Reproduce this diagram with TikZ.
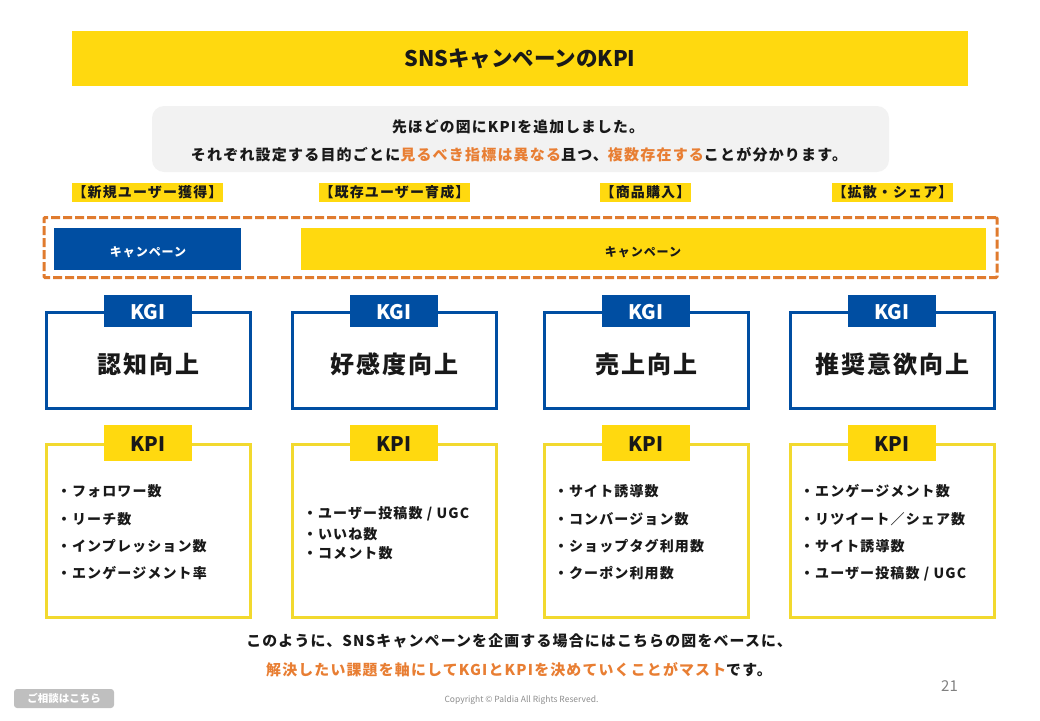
\documentclass[tikz,border=0pt]{standalone}
\usepackage{fontspec}
\setmainfont{Noto Sans CJK JP}
\newfontfamily\jpw[LetterSpace=8]{Noto Sans CJK JP}
\newcommand{\fsz}[1]{\fontsize{#1}{#1}\selectfont}
\definecolor{ky}{HTML}{FFD90F}
\definecolor{kb}{HTML}{004EA2}
\definecolor{kline}{HTML}{F2D92E}
\definecolor{ko}{HTML}{E87E33}
\definecolor{kd}{HTML}{E07B2E}
\definecolor{kg}{HTML}{F2F2F2}
\tikzset{
  x=1pt,y=-1pt,
  txt/.style={inner sep=0pt,outer sep=0pt,font=\jpw\bfseries,text=black!90},
  tag/.style={txt,fill=ky,minimum height=19pt,font=\jpw\bfseries\fsz{14}},
  camp/.style={inner sep=0pt,minimum height=42pt},
  camptxt/.style={txt,font=\jpw\bfseries\fsz{12}},
  kgibox/.style={draw=kb,line width=3pt,fill=white,minimum width=204pt,minimum height=96pt,inner sep=0pt},
  kgitxt/.style={txt,font=\jpw\bfseries\fsz{24}},
  kpibox/.style={draw=kline,line width=3pt,fill=white,minimum width=204pt,minimum height=173pt,inner sep=0pt},
  kgihead/.style={fill=kb,minimum width=88pt,minimum height=32pt,inner sep=0pt},
  kpihead/.style={fill=ky,minimum width=88pt,minimum height=36pt,inner sep=0pt},
  headtxt/.style={inner sep=0pt,font=\bfseries\fsz{20}},
  item/.style={txt,anchor=west,font=\jpw\bfseries\fsz{14}},
}
\begin{document}
\begin{tikzpicture}
\useasboundingbox (0,0) rectangle (1040,720);
\node[fill=ky,minimum width=896pt,minimum height=55pt,inner sep=0pt] (title) at (520,58.5) {};
\node[inner sep=0pt,font=\bfseries\fsz{21.5},text=black!90] (titletxt) at (520,58.5) {SNSキャンペーンのKPI};
\node[fill=kg,rounded corners=12pt,minimum width=737pt,minimum height=66pt,inner sep=0pt] (lead) at (520.5,139) {};
\node[txt,font=\jpw\bfseries\fsz{14.8}] (lead1) at (518,127) {先ほどの図にKPIを追加しました。};
\node[txt,font=\jpw\bfseries\fsz{15}] (lead2) at (519,155) {それぞれ設定する目的ごとに\textcolor{ko}{見るべき指標は異なる}且つ、\textcolor{ko}{複数存在する}ことが分かります。};
\node[tag,minimum width=151pt] (t1) at (147.5,192.5) {【新規ユーザー獲得】};
\node[tag,minimum width=151pt] (t2) at (394.5,192.5) {【既存ユーザー育成】};
\node[tag,minimum width=91pt] (t3) at (645.5,192.5) {【商品購入】};
\node[tag,minimum width=121pt] (t4) at (892.5,192.5) {【拡散・シェア】};
\node[draw=kd,line width=3pt,dash pattern=on 9pt off 3pt,rounded corners=1pt,minimum width=953pt,minimum height=60pt,inner sep=0pt] (frame) at (520.5,247.5) {};
\node[camp,fill=kb,minimum width=187pt] (c1) at (147.5,249) {};
\node[camp,fill=ky,minimum width=685pt] (c2) at (643.5,249) {};
\node[camptxt,text=white] (c1t) at (148,252) {キャンペーン};
\node[camptxt] (c2t) at (643,252) {キャンペーン};
\node[kgibox] (g1) at (148.5,360) {};
\node[kgibox] (g2) at (394.5,360) {};
\node[kgibox] (g3) at (646.5,360) {};
\node[kgibox] (g4) at (892.5,360) {};
\node[kgitxt] (g1t) at (148.5,364) {認知向上};
\node[kgitxt] (g2t) at (394.5,364) {好感度向上};
\node[kgitxt] (g3t) at (646.5,364) {売上向上};
\node[kgitxt] (g4t) at (892.5,364) {推奨意欲向上};
\node[kgihead] (gh1) at (148,311) {};
\node[kgihead] (gh2) at (394,311) {};
\node[kgihead] (gh3) at (646,311) {};
\node[kgihead] (gh4) at (892,311) {};
\node[headtxt,text=white] (gh1t) at (148,312) {KGI};
\node[headtxt,text=white] (gh2t) at (394,312) {KGI};
\node[headtxt,text=white] (gh3t) at (646,312) {KGI};
\node[headtxt,text=white] (gh4t) at (892,312) {KGI};
\node[kpibox] (p1) at (148.5,530.5) {};
\node[kpibox] (p2) at (394.5,530.5) {};
\node[kpibox] (p3) at (646.5,530.5) {};
\node[kpibox] (p4) at (892.5,530.5) {};
\node[kpihead] (ph1) at (148,443) {};
\node[kpihead] (ph2) at (394,443) {};
\node[kpihead] (ph3) at (646,443) {};
\node[kpihead] (ph4) at (892,443) {};
\node[headtxt,text=black!90] (ph1t) at (148,444) {KPI};
\node[headtxt,text=black!90] (ph2t) at (394,444) {KPI};
\node[headtxt,text=black!90] (ph3t) at (646,444) {KPI};
\node[headtxt,text=black!90] (ph4t) at (892,444) {KPI};
\node[item] (a1) at (57,491.5) {・フォロワー数};
\node[item] (a2) at (57,519.5) {・リーチ数};
\node[item] (a3) at (57,546.5) {・インプレッション数};
\node[item] (a4) at (57,573.5) {・エンゲージメント率};
\node[item] (b1) at (303,513.5) {・ユーザー投稿数 / UGC};
\node[item] (b2) at (303,534.5) {・いいね数};
\node[item] (b3) at (303,553.5) {・コメント数};
\node[item] (d1) at (554,491.5) {・サイト誘導数};
\node[item] (d2) at (554,519.5) {・コンバージョン数};
\node[item] (d3) at (554,546.5) {・ショップタグ利用数};
\node[item] (d4) at (554,573.5) {・クーポン利用数};
\node[item] (e1) at (800,491.5) {・エンゲージメント数};
\node[item] (e2) at (800,519.5) {・リツイート／シェア数};
\node[item] (e3) at (800,546.5) {・サイト誘導数};
\node[item] (e4) at (800,573.5) {・ユーザー投稿数 / UGC};
\node[txt,font=\jpw\bfseries\fsz{14.9}] (f1) at (519,641) {このように、SNSキャンペーンを企画する場合にはこちらの図をベースに、};
\node[txt,font=\jpw\bfseries\fsz{14.9}] (f2) at (519,669.5) {\textcolor{ko}{解決したい課題を軸にしてKGIとKPIを決めていくことがマスト}です。};
\node[fill=black!25,rounded corners=3pt,minimum width=100pt,minimum height=19pt,inner sep=0pt,text=white,font=\bfseries\fsz{10.5}] (btn) at (64,698.5) {ご相談はこちら};
\node[txt,font=\fsz{8.5},text=black!45] (copy) at (521.5,700.5) {Copyright © Paldia All Rights Reserved.};
\node[txt,font=\fsz{15},text=black!50] (pg) at (949.5,686) {21};
\end{tikzpicture}
\end{document}
